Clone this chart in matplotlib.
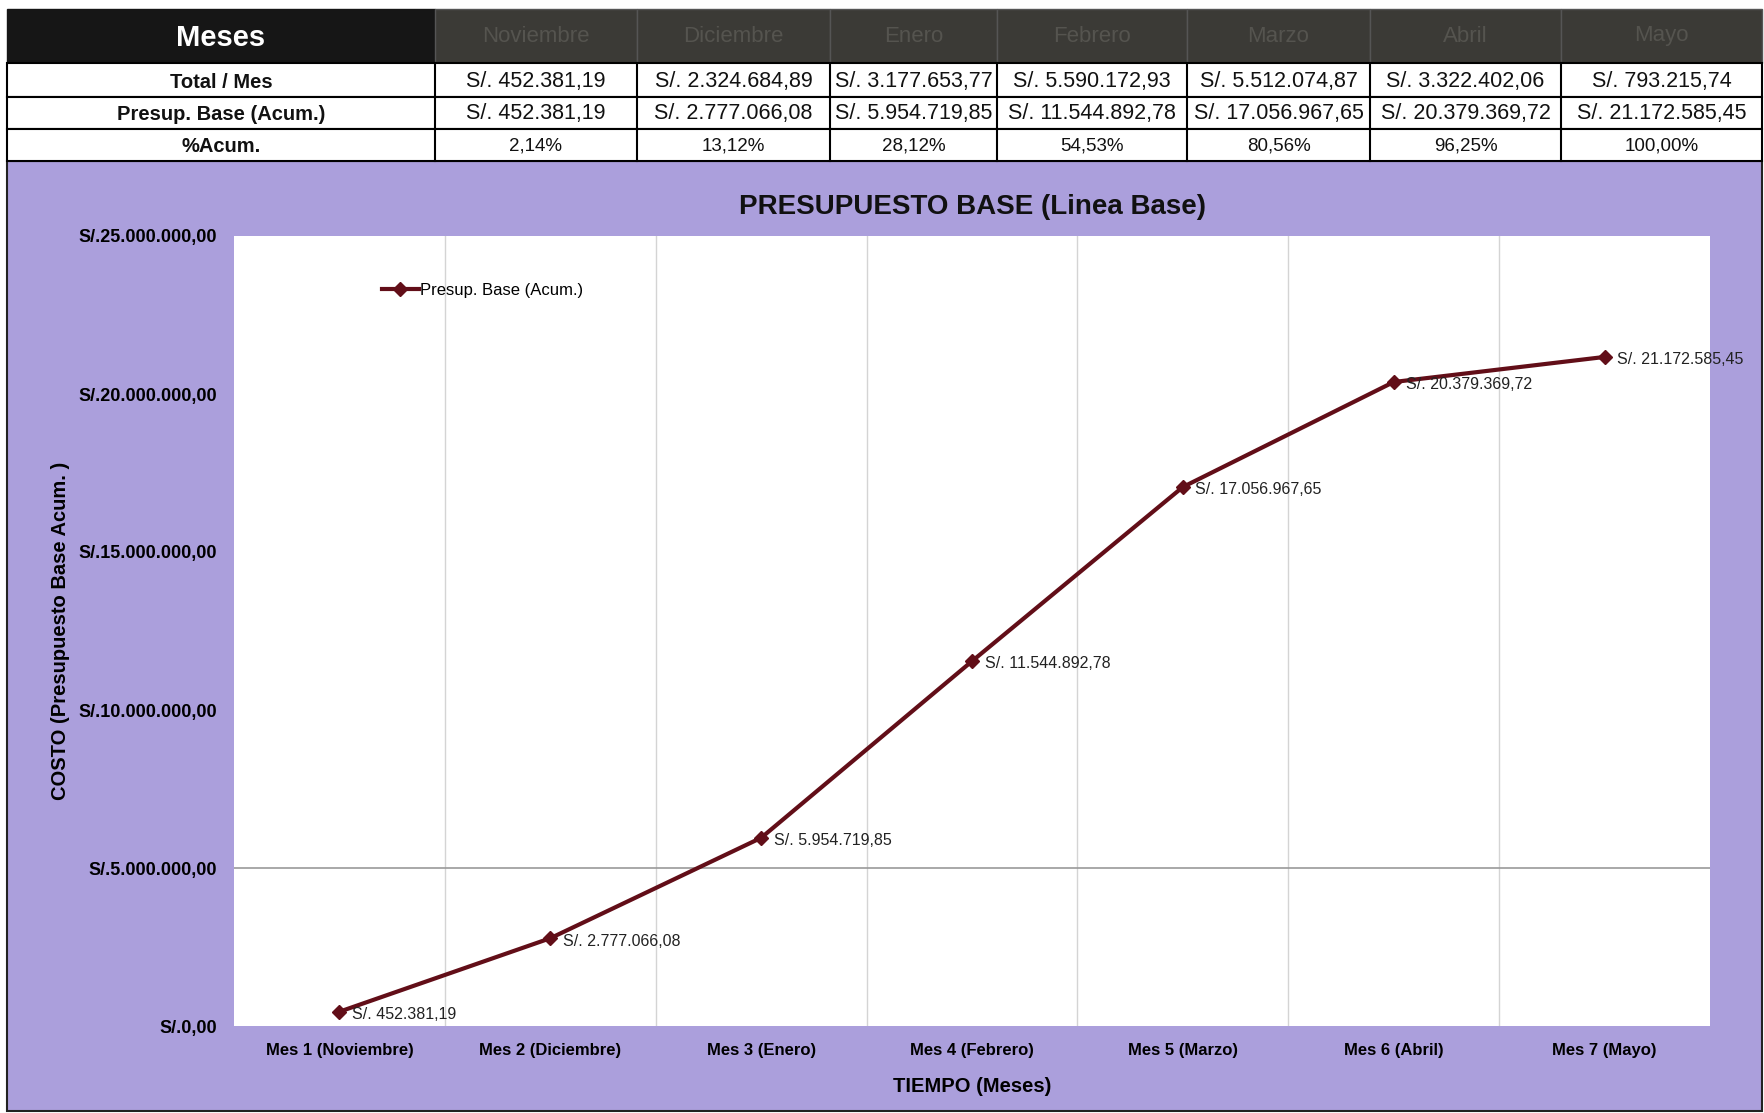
import matplotlib
matplotlib.use("Agg")
import matplotlib.pyplot as plt
from matplotlib.patches import Rectangle

plt.rcParams['font.family'] = ['Liberation Sans Narrow', 'Liberation Sans', 'DejaVu Sans']

meses = ["Noviembre", "Diciembre", "Enero", "Febrero", "Marzo", "Abril", "Mayo"]
x_labels = ["Mes 1 (Noviembre)", "Mes 2 (Diciembre)", "Mes 3 (Enero)", "Mes 4 (Febrero)",
            "Mes 5 (Marzo)", "Mes 6 (Abril)", "Mes 7 (Mayo)"]
total_mes = [452381.19, 2324684.89, 3177653.77, 5590172.93, 5512074.87, 3322402.06, 793215.74]
acumulado = [452381.19, 2777066.08, 5954719.85, 11544892.78, 17056967.65, 20379369.72, 21172585.45]
pct_acum = [2.14, 13.12, 28.12, 54.53, 80.56, 96.25, 100.00]
y_ticks = [0, 5e6, 10e6, 15e6, 20e6, 25e6]

PURPLE = "#ab9fdc"
LINE = "#620e18"


def soles(v):
    s = f"{v:,.2f}".replace(",", "X").replace(".", ",").replace("X", ".")
    return "S/. " + s


def pct(v):
    return f"{v:.2f}%".replace(".", ",")


W, H = 1764, 1113
fig = plt.figure(figsize=(W / 100, H / 100), dpi=100)
fig.patch.set_facecolor("white")

# background / table layer in pixel coords
bg = fig.add_axes([0, 0, 1, 1])
bg.set_xlim(0, W)
bg.set_ylim(H, 0)
bg.axis("off")
bg.add_patch(Rectangle((7, 161), W - 9, H - 163, facecolor=PURPLE, edgecolor="#222222", lw=1.5))

col_x = [7, 435, 637, 830, 997, 1187, 1370, 1561, 1762]
row_y = [9, 63, 97, 129, 161]
row_names = ["Total / Mes", "Presup. Base (Acum.)", "%Acum."]
row_vals = [[soles(v) for v in total_mes], [soles(v) for v in acumulado], [pct(v) for v in pct_acum]]

# header row
bg.add_patch(Rectangle((col_x[0], row_y[0]), col_x[1] - col_x[0], row_y[1] - row_y[0],
                       facecolor="#161616", edgecolor="#161616"))
bg.text((col_x[0] + col_x[1]) / 2, (row_y[0] + row_y[1]) / 2 + 2, "Meses", color="white",
        fontsize=21, fontweight="bold", ha="center", va="center")
for i, m in enumerate(meses):
    x0, x1 = col_x[i + 1], col_x[i + 2]
    bg.add_patch(Rectangle((x0, row_y[0]), x1 - x0, row_y[1] - row_y[0],
                           facecolor="#3b3a36", edgecolor="#555555", lw=1))
    bg.text((x0 + x1) / 2, (row_y[0] + row_y[1]) / 2, m, color="#55544f",
            fontsize=16, ha="center", va="center")

fs_row = [15.5, 15.5, 13.5]
for r in range(3):
    y0, y1 = row_y[r + 1], row_y[r + 2]
    bg.add_patch(Rectangle((col_x[0], y0), col_x[-1] - col_x[0], y1 - y0,
                           facecolor="white", edgecolor="black", lw=1.5))
    bg.text((col_x[0] + col_x[1]) / 2, (y0 + y1) / 2 + 2, row_names[r], fontsize=14.5,
            fontweight="bold", ha="center", va="center", color="#111111")
    for i in range(7):
        x0, x1 = col_x[i + 1], col_x[i + 2]
        bg.plot([x0, x0], [y0, y1], color="black", lw=1.5)
        bg.text((x0 + x1) / 2, (y0 + y1) / 2 + 1, row_vals[r][i], fontsize=fs_row[r],
                ha="center", va="center", color="#111111")

# chart
ax = fig.add_axes([234 / W, 1 - 1026 / H, (1710 - 234) / W, (1026 - 236) / H])
ax.set_facecolor("white")
xs = list(range(len(x_labels)))
ax.plot(xs, acumulado, color=LINE, lw=3, marker="D", markersize=7,
        label="Presup. Base (Acum.)")
for x, v in zip(xs, acumulado):
    ax.annotate(soles(v), (x, v), xytext=(9, -2), textcoords="offset points",
                fontsize=11.5, color="#222222", va="center", ha="left", annotation_clip=False)

ax.set_xlim(-0.5, len(x_labels) - 0.5)
ax.set_ylim(0, 25e6)
ax.set_xticks(xs)
ax.set_xticklabels(x_labels, fontsize=12, fontweight="bold")
ax.set_yticks(y_ticks)
ax.set_yticklabels([soles(v).replace("S/. ", "S/.") for v in y_ticks], fontsize=13, fontweight="bold")
ax.tick_params(length=0, pad=12)
ax.tick_params(axis="x", pad=12)
for b in [i + 0.5 for i in xs[:-1]]:
    ax.axvline(b, color="#d4d4d4", lw=1, zorder=0)
ax.axhline(5e6, color="#9a9a9a", lw=1.2, zorder=0)
for s in ax.spines.values():
    s.set_visible(False)

ax.set_title("PRESUPUESTO BASE (Linea Base)", fontsize=20, fontweight="bold", pad=16, color="#111111")
ax.set_xlabel("TIEMPO (Meses)", fontsize=14.5, fontweight="bold", labelpad=14)
ax.set_ylabel("COSTO (Presupuesto Base Acum. )", fontsize=14.5, fontweight="bold", labelpad=6)
ax.legend(loc="upper left", bbox_to_anchor=(0.09, 0.96), frameon=False, fontsize=12,
          handlelength=2.2, handletextpad=0.1)

fig.savefig("out.png", dpi=100, facecolor=fig.get_facecolor())
